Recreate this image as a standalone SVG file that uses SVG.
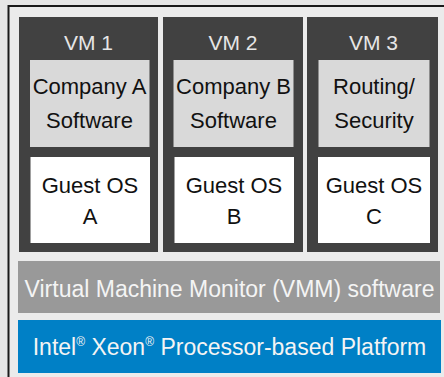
<svg xmlns="http://www.w3.org/2000/svg" width="444" height="377" viewBox="0 0 444 377">
<style>
.vm{fill:#414141}
.sw{fill:#d9d9d9}
.os{fill:#ffffff}
.t{font-family:"Liberation Sans",Arial,sans-serif;text-anchor:middle}
.dk{fill:#111111;font-size:22px}
.lt{fill:#e6e6e6;font-size:21px}
.wh{fill:#f4f4f4;font-size:23px}
</style>
<rect x="0" y="0" width="444" height="377" fill="#e6e6e6"/>
<rect x="8.5" y="6" width="436" height="372" fill="#ebebeb"/>
<path d="M8.5,377 V6 H444" fill="none" stroke="#1a1a1a" stroke-width="2"/>
<g id="vm1">
<rect class="vm" x="19" y="17" width="139" height="235"/>
<text class="t lt" x="88.5" y="50">VM 1</text>
<rect class="sw" x="30" y="60" width="119.5" height="87"/>
<text class="t dk" x="89.5" y="94">Company A</text>
<text class="t dk" x="89.5" y="128">Software</text>
<rect class="os" x="30.5" y="157" width="119.5" height="86"/>
<text class="t dk" x="90" y="193">Guest OS</text>
<text class="t dk" x="90" y="224">A</text>
</g>
<g id="vm2">
<rect class="vm" x="163" y="17" width="140" height="235"/>
<text class="t lt" x="233" y="50">VM 2</text>
<rect class="sw" x="173.5" y="60" width="120" height="87"/>
<text class="t dk" x="233.5" y="94">Company B</text>
<text class="t dk" x="233.5" y="128">Software</text>
<rect class="os" x="174.5" y="157" width="119.5" height="86"/>
<text class="t dk" x="234" y="193">Guest OS</text>
<text class="t dk" x="234" y="224">B</text>
</g>
<g id="vm3">
<rect class="vm" x="307" y="17" width="131" height="235"/>
<text class="t lt" x="373.5" y="50">VM 3</text>
<rect class="sw" x="318.5" y="60" width="111" height="87"/>
<text class="t dk" x="374" y="94">Routing/</text>
<text class="t dk" x="374" y="128">Security</text>
<rect class="os" x="318" y="157" width="112" height="86"/>
<text class="t dk" x="374" y="193">Guest OS</text>
<text class="t dk" x="374" y="224">C</text>
</g>
<g id="vmm">
<rect x="18" y="261" width="422" height="52" fill="#999999"/>
<text class="t wh" x="229.5" y="297" font-size="22.8">Virtual Machine Monitor (VMM) software</text>
</g>
<g id="platform">
<rect x="18" y="320" width="423" height="53" fill="#0080c6"/>
<text class="t wh" x="229.5" y="355">Intel<tspan font-size="12" dy="-9">®</tspan><tspan dy="9"> Xeon</tspan><tspan font-size="12" dy="-9">®</tspan><tspan dy="9"> Processor-based Platform</tspan></text>
</g>
<g id="connectors"/>
</svg>
